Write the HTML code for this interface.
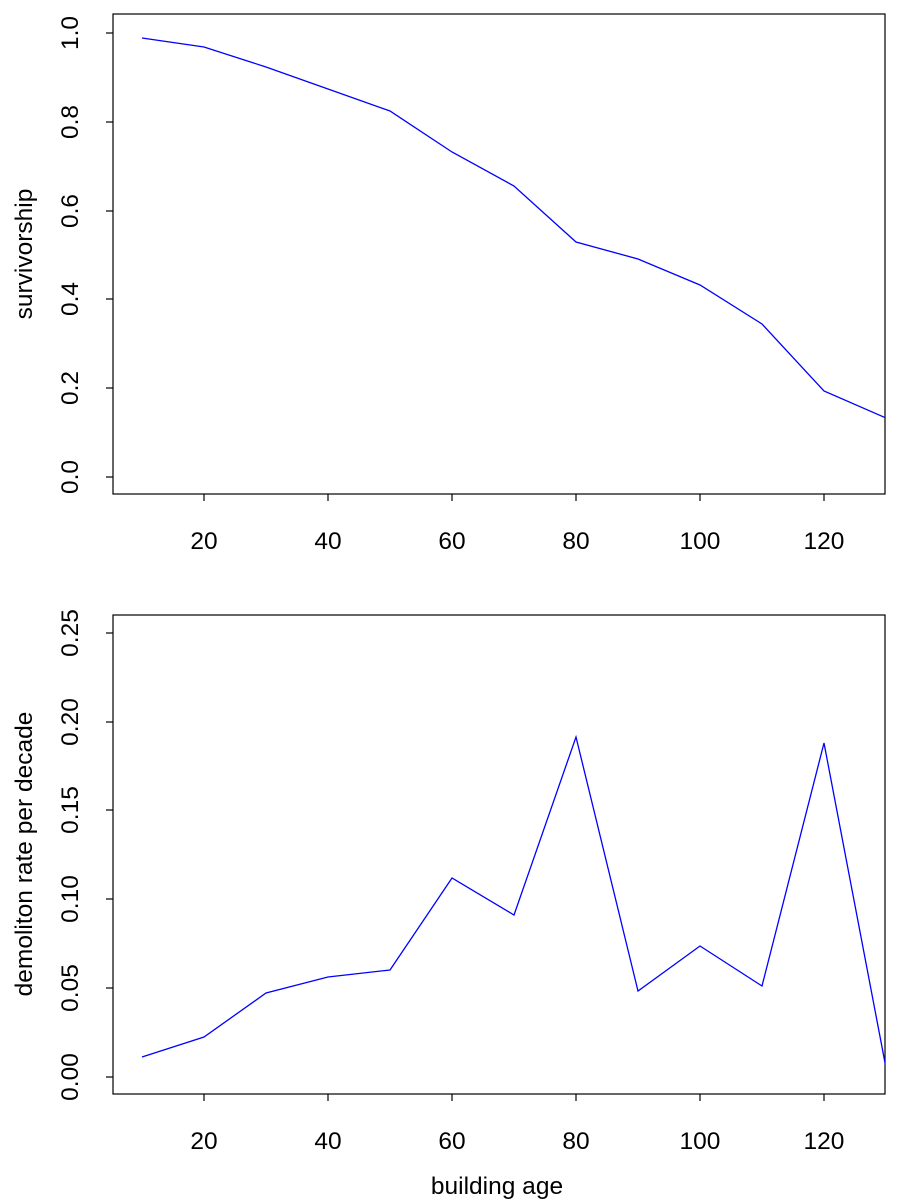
<!DOCTYPE html>
<html><head><style>body{margin:0;background:#fff}svg{display:block}</style></head><body>
<svg width="900" height="1200" xmlns="http://www.w3.org/2000/svg" font-family="Liberation Sans, sans-serif" font-size="24.5" fill="#000">
<defs><clipPath id="c1"><rect x="113" y="14" width="772" height="480"/></clipPath><clipPath id="c2"><rect x="113" y="615" width="772" height="479"/></clipPath></defs>
<rect x="113" y="14" width="772" height="480" fill="none" stroke="#000" stroke-width="1.2"/>
<rect x="113" y="615" width="772" height="479" fill="none" stroke="#000" stroke-width="1.2"/>
<g stroke="#000" stroke-width="1.2">
<line x1="204" y1="494" x2="204" y2="501"/><line x1="328" y1="494" x2="328" y2="501"/><line x1="452" y1="494" x2="452" y2="501"/><line x1="576" y1="494" x2="576" y2="501"/><line x1="700" y1="494" x2="700" y2="501"/><line x1="824" y1="494" x2="824" y2="501"/>
<line x1="113" y1="33" x2="106" y2="33"/><line x1="113" y1="122" x2="106" y2="122"/><line x1="113" y1="211" x2="106" y2="211"/><line x1="113" y1="299" x2="106" y2="299"/><line x1="113" y1="388" x2="106" y2="388"/><line x1="113" y1="477" x2="106" y2="477"/>
<line x1="204" y1="1094" x2="204" y2="1101"/><line x1="328" y1="1094" x2="328" y2="1101"/><line x1="452" y1="1094" x2="452" y2="1101"/><line x1="576" y1="1094" x2="576" y2="1101"/><line x1="700" y1="1094" x2="700" y2="1101"/><line x1="824" y1="1094" x2="824" y2="1101"/>
<line x1="113" y1="633" x2="106" y2="633"/><line x1="113" y1="722" x2="106" y2="722"/><line x1="113" y1="810" x2="106" y2="810"/><line x1="113" y1="899" x2="106" y2="899"/><line x1="113" y1="988" x2="106" y2="988"/><line x1="113" y1="1077" x2="106" y2="1077"/>
</g>
<g text-anchor="middle">
<text x="204" y="549">20</text><text x="328" y="549">40</text><text x="452" y="549">60</text><text x="576" y="549">80</text><text x="700" y="549">100</text><text x="824" y="549">120</text>
<text x="204" y="1149">20</text><text x="328" y="1149">40</text><text x="452" y="1149">60</text><text x="576" y="1149">80</text><text x="700" y="1149">100</text><text x="824" y="1149">120</text>
<text x="497" y="1194">building age</text>
<text transform="translate(78,33) rotate(-90)">1.0</text><text transform="translate(78,122) rotate(-90)">0.8</text><text transform="translate(78,211) rotate(-90)">0.6</text><text transform="translate(78,299) rotate(-90)">0.4</text><text transform="translate(78,388) rotate(-90)">0.2</text><text transform="translate(78,477) rotate(-90)">0.0</text>
<text transform="translate(78,633) rotate(-90)">0.25</text><text transform="translate(78,722) rotate(-90)">0.20</text><text transform="translate(78,810) rotate(-90)">0.15</text><text transform="translate(78,899) rotate(-90)">0.10</text><text transform="translate(78,988) rotate(-90)">0.05</text><text transform="translate(78,1077) rotate(-90)">0.00</text>
<text transform="translate(32,254) rotate(-90)">survivorship</text>
<text transform="translate(32,854) rotate(-90)">demoliton rate per decade</text>
</g>
<polyline clip-path="url(#c1)" fill="none" stroke="#0000ff" stroke-width="1.3" points="142,38 204,47 266,67 328,89 390,111 452,152 514,186 576,242 638,259 700,285 762,324 824,391 886,418"/>
<polyline clip-path="url(#c2)" fill="none" stroke="#0000ff" stroke-width="1.3" points="142,1057 204,1037 266,993 328,977 390,970 452,878 514,915 576,737 638,991 700,946 762,986 824,743 886,1068"/>
</svg>
</body></html>
